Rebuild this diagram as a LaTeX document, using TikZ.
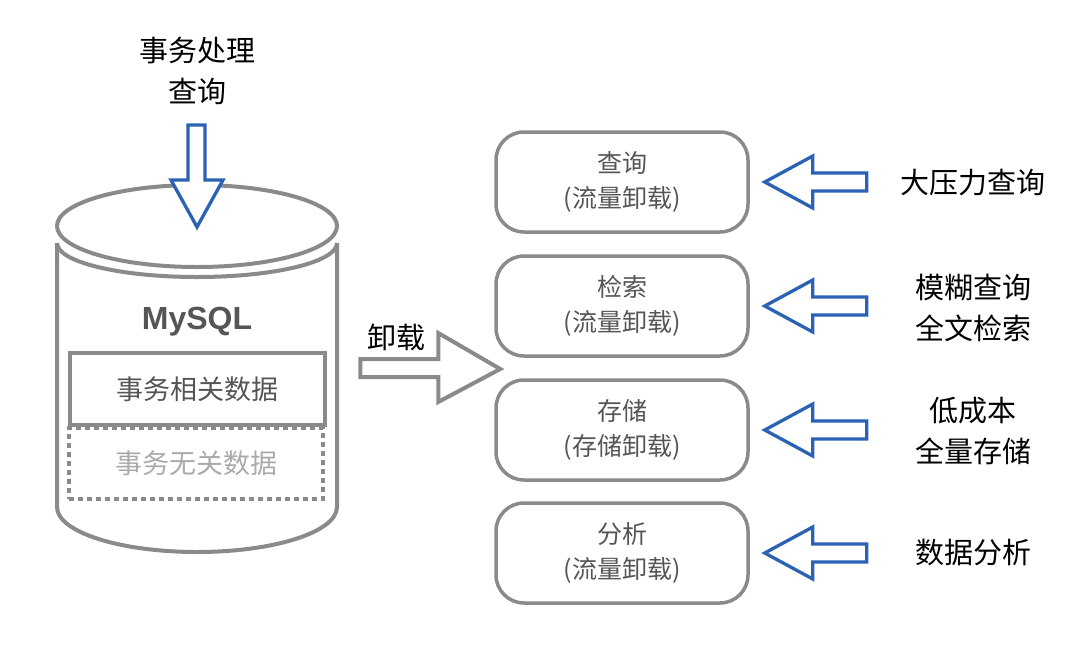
\documentclass[tikz,border=0pt]{standalone}
\usepackage{fontspec}
\usetikzlibrary{calc}
\setmainfont{Noto Sans CJK SC}
\newfontfamily\latinsans{Liberation Sans}
\definecolor{linegray}{RGB}{138,138,138}
\definecolor{textgray}{RGB}{85,85,85}
\definecolor{softgray}{RGB}{170,170,170}
\definecolor{arrowblue}{RGB}{43,98,180}
\tikzset{
  dbline/.style={draw=linegray, line width=4pt},
  slot/.style={draw=linegray, line width=4pt, minimum width=255pt, minimum height=72pt,
    text=textgray, font=\fontsize{27}{35}\selectfont},
  svcbox/.style={draw=linegray, line width=3.5pt, rounded corners=28pt,
    minimum width=252pt, minimum height=100pt, align=center,
    text=textgray, font=\fontsize{25}{35}\selectfont},
  lbl/.style={align=center, text=black, font=\fontsize{29}{41}\selectfont},
  inarrow/.style={draw=arrowblue, fill=white, line width=3.3pt, line join=miter},
  outarrow/.style={draw=linegray, fill=white, line width=4pt, line join=miter}
}
\begin{document}
\begin{tikzpicture}[x=1pt,y=-1pt]
      \useasboundingbox (0,0) rectangle (1080,646);

      % DATABASE
      \draw[dbline] (57,243) -- (57,507)
        .. controls (57,532) and (120,552) .. (197,552)
        .. controls (274,552) and (337,532) .. (337,507) -- (337,243);
      \draw[dbline] (57,243) .. controls (57,262) and (120,277) .. (197,277)
        .. controls (274,277) and (337,262) .. (337,243);
      \draw[dbline, fill=white] (197,226) ellipse [x radius=140, y radius=41];
      \node[text=textgray, font=\latinsans\bfseries\fontsize{32}{36}\selectfont] (mysql) at (197,322) {MySQL};
      \node[slot] (txdata) at (197.5,389) {事务相关数据};
      \node[slot, dash pattern=on 5pt off 4pt, text=softgray, minimum width=254pt, minimum height=71pt] (otherdata) at (196,463.5) {事务无关数据};
      \coordinate (dbtop) at (197,227);

      % SERVICES
      \node[svcbox] (q1) at (622,182) {查询\\(流量卸载)};
      \node[svcbox] (q2) at (622,306) {检索\\(流量卸载)};
      \node[svcbox] (q3) at (622,430) {存储\\(存储卸载)};
      \node[svcbox] (q4) at (622,553) {分析\\(流量卸载)};

      % LABELS
      \node[lbl] (oltp) at (197,71) {事务处理\\查询};
      \node[lbl] (l1) at (973,183) {大压力查询};
      \node[lbl] (l2) at (973,307.5) {模糊查询\\全文检索};
      \node[lbl] (l3) at (973,430.5) {低成本\\全量存储};
      \node[lbl] (l4) at (973,553) {数据分析};

      % ARROWS
      \draw[inarrow] (dbtop) -- ++(-26,-47) -- ++(17,0) -- ++(0,-55) -- ++(17,0)
        -- ++(0,55) -- ++(18,0) -- cycle;
      \foreach \b in {q1,q2,q3,q4}
        \draw[inarrow] (\b.east) ++(15,0) -- ++(48,-26) -- ++(0,17) -- ++(54,0)
          -- ++(0,18) -- ++(-54,0) -- ++(0,17) -- cycle;
      \coordinate (unload) at ($(q2.south west)!0.5!(q3.north west)+(6,1)$);
      \draw[outarrow] (unload) -- ++(-62,-36) -- ++(0,26) -- ++(-78,0) -- ++(0,18)
        -- ++(78,0) -- ++(0,25) -- cycle;
      \node[lbl] (unloadlbl) at (396,337) {卸载};
    \end{tikzpicture}
\end{document}
